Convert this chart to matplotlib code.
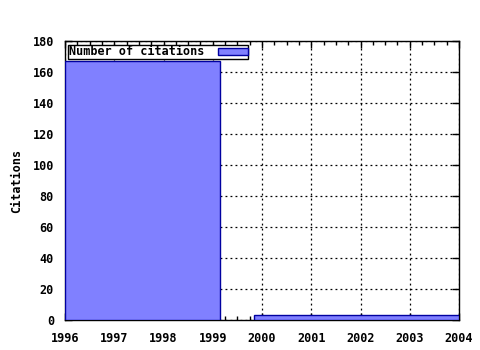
import matplotlib
matplotlib.use('Agg')
import matplotlib.pyplot as plt
from matplotlib.ticker import MultipleLocator

# citation counts per period (bin edges in years)
bin_starts = [1996.0, 1999.84]
bin_ends = [1999.15, 2004.0]
citations = [167, 3]
label = 'Number of citations'

plt.rcParams['font.family'] = 'DejaVu Sans Mono'
plt.rcParams['font.weight'] = 'bold'
plt.rcParams['font.size'] = 8.5

fig = plt.figure(figsize=(4.8, 3.5), dpi=100)
ax = fig.add_axes([65/480., 30/350., 394/480., 279/350.])

widths = [e - s for s, e in zip(bin_starts, bin_ends)]
ax.bar(bin_starts, citations, widths, align='edge', color='#8080ff',
       edgecolor='#0000a0', linewidth=1.0, label=label, zorder=3)

ax.set_xlim(1996, 2004)
ax.set_ylim(0, 180)
ax.xaxis.set_major_locator(MultipleLocator(1))
ax.xaxis.set_minor_locator(MultipleLocator(0.25))
ax.yaxis.set_major_locator(MultipleLocator(20))
ax.grid(True, which='major', color='black', linestyle=(0, (1.5, 2.5)),
        linewidth=0.9, zorder=1)
ax.set_axisbelow(True)
ax.tick_params(which='both', direction='in', top=True, right=True,
               labelsize=8.5, width=1)
ax.tick_params(which='major', length=5)
ax.tick_params(which='minor', length=3)
ax.tick_params(axis='x', which='major', pad=9)
ax.tick_params(axis='y', which='major', pad=8)
for sp in ax.spines.values():
    sp.set_linewidth(1.0)

ax.set_ylabel('Citations', fontsize=8.5, fontweight='bold', labelpad=7)

leg = ax.legend(loc='upper left', bbox_to_anchor=(0.002, 0.995),
                frameon=True, fancybox=False, framealpha=1, edgecolor='black',
                markerfirst=False, handlelength=2.5, handleheight=0.5,
                borderpad=0.05, borderaxespad=0.2, handletextpad=1.2,
                prop={'size': 8.5, 'weight': 'bold'})
leg.get_frame().set_linewidth(1.0)
leg.set_zorder(5)

plt.savefig('out.png', dpi=100)
